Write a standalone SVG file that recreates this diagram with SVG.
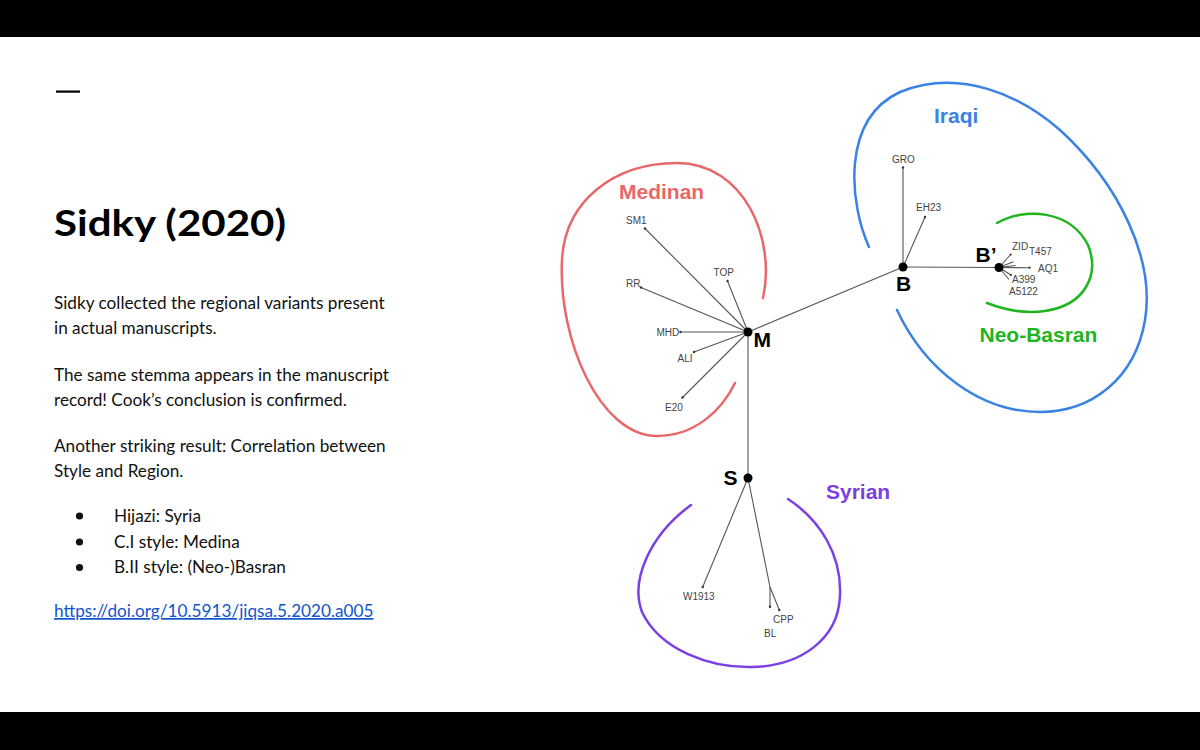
<svg xmlns="http://www.w3.org/2000/svg" width="1200" height="750" viewBox="0 0 1200 750">
<style>
.body{font-family:Lato,"Open Sans","Liberation Sans",sans-serif;font-size:17.2px;fill:#111}
.leaf{font-family:"Liberation Sans",Arial,sans-serif;font-size:10px;fill:#444}
.nlab{font-family:"Liberation Sans",Arial,sans-serif;font-size:21px;font-weight:bold;fill:#000}
.grp{font-family:"Liberation Sans",Arial,sans-serif;font-size:21px;font-weight:bold}
.edge{stroke:#555;stroke-width:1.1;fill:none}
.tip{fill:#333}
.node{fill:#000}
.hull{fill:none;stroke-width:2.5;stroke-linecap:round}
</style>
<rect x="0" y="0" width="1200" height="750" fill="#fff"/>
<rect x="0" y="0" width="1200" height="37" fill="#000"/>
<rect x="0" y="712" width="1200" height="38" fill="#000"/>

<g id="slide-text">
<rect x="56" y="90.5" width="24" height="2.2" fill="#000"/>
<text x="54" y="236" font-family="Lato,'Open Sans',sans-serif" font-size="36" font-weight="700" fill="#000" textLength="232" lengthAdjust="spacingAndGlyphs">Sidky (2020)</text>
<text class="body" x="54" y="309">Sidky collected the regional variants present</text>
<text class="body" x="54" y="334">in actual manuscripts.</text>
<text class="body" x="54" y="381">The same stemma appears in the manuscript</text>
<text class="body" x="54" y="406">record! Cook’s conclusion is confirmed.</text>
<text class="body" x="54" y="452">Another striking result: Correlation between</text>
<text class="body" x="54" y="477">Style and Region.</text>
<circle cx="79.5" cy="516" r="3.6" fill="#111"/>
<circle cx="79.5" cy="542" r="3.6" fill="#111"/>
<circle cx="79.5" cy="567.5" r="3.6" fill="#111"/>
<text class="body" x="114" y="522">Hijazi: Syria</text>
<text class="body" x="114" y="548">C.I style: Medina</text>
<text class="body" x="114" y="573">B.II style: (Neo-)Basran</text>
<text class="body" x="54" y="617" style="fill:#1155cc" text-decoration="underline">https://doi.org/10.5913/jiqsa.5.2020.a005</text>
</g>

<g id="hulls">
<path id="hull-medinan" class="hull" stroke="#e8686a" d="M763,298 C776,240 745,163 677,163 C615,163 565,200 562,260 C558,340 600,436 657,436 C695,436 722,410 735,383"/>
<path id="hull-iraqi" class="hull" stroke="#3a82e4" d="M869,247 C850,205 840,120 900,92 C960,68 1020,95 1060,130 C1120,185 1155,260 1145,320 C1135,380 1090,412 1040,412 C980,412 925,370 897,310"/>
<path id="hull-neobasran" class="hull" stroke="#1fb51f" d="M997,223 C1025,207 1070,210 1088,245 C1100,275 1085,305 1045,311 C1025,314 1005,310 987,303"/>
<path id="hull-syrian" class="hull" stroke="#7b3fe6" d="M691,505 C650,535 630,580 642,612 C660,650 710,668 752,667 C800,666 838,640 840,596 C842,555 820,520 788,499"/>
</g>

<g id="connectors">
<line class="edge" x1="748" y1="332" x2="903" y2="267"/>
<line class="edge" x1="748" y1="332" x2="748" y2="478"/>
<line class="edge" x1="748" y1="332" x2="645" y2="228.5"/>
<line class="edge" x1="748" y1="332" x2="727.5" y2="281"/>
<line class="edge" x1="748" y1="332" x2="641" y2="287.5"/>
<line class="edge" x1="748" y1="332" x2="680.5" y2="332"/>
<line class="edge" x1="748" y1="332" x2="694" y2="352"/>
<line class="edge" x1="748" y1="332" x2="682.5" y2="397.5"/>
<line class="edge" x1="903" y1="267" x2="903" y2="167.5"/>
<line class="edge" x1="903" y1="267" x2="925" y2="217"/>
<line class="edge" x1="903" y1="267" x2="999" y2="267.5"/>
<line class="edge" x1="999" y1="267.5" x2="1010.7" y2="254.5"/>
<line class="edge" x1="999" y1="267.5" x2="1013.3" y2="261.7"/>
<line class="edge" x1="999" y1="267.5" x2="1015.5" y2="265.5"/>
<line class="edge" x1="999" y1="267.5" x2="1029.5" y2="267.7"/>
<line class="edge" x1="999" y1="267.5" x2="1011" y2="275"/>
<line class="edge" x1="999" y1="267.5" x2="1009" y2="279.5"/>
<line class="edge" x1="748" y1="478" x2="702.7" y2="587"/>
<line class="edge" x1="748" y1="478" x2="770" y2="587"/>
<line class="edge" x1="770" y1="587" x2="770" y2="606.7"/>
<line class="edge" x1="770" y1="587" x2="779.3" y2="610"/>
</g>

<g id="tips">
<circle class="tip" cx="645" cy="228.5" r="1.2"/>
<circle class="tip" cx="727.5" cy="281" r="1.2"/>
<circle class="tip" cx="641" cy="287.5" r="1.2"/>
<circle class="tip" cx="680.5" cy="332" r="1.2"/>
<circle class="tip" cx="694" cy="352" r="1.2"/>
<circle class="tip" cx="682.5" cy="397.5" r="1.2"/>
<circle class="tip" cx="903" cy="167.5" r="1.2"/>
<circle class="tip" cx="925" cy="217" r="1.2"/>
<circle class="tip" cx="1010.7" cy="254.5" r="1.1"/>
<circle class="tip" cx="1029.5" cy="267.7" r="1.1"/>
<circle class="tip" cx="1011" cy="275" r="1.1"/>
<circle class="tip" cx="702.7" cy="587" r="1.2"/>
<circle class="tip" cx="770" cy="606.7" r="1.2"/>
<circle class="tip" cx="779.3" cy="610" r="1.2"/>
</g>

<g id="node-M"><circle class="node" cx="748" cy="332" r="4.5"/><text class="nlab" x="753.5" y="347">M</text></g>
<g id="node-B"><circle class="node" cx="903" cy="267" r="4.5"/><text class="nlab" x="896" y="291">B</text></g>
<g id="node-Bp"><circle class="node" cx="999" cy="267.5" r="4.5"/><text class="nlab" x="975.5" y="262">B’</text></g>
<g id="node-S"><circle class="node" cx="748" cy="478" r="4.5"/><text class="nlab" x="723.5" y="484.5">S</text></g>

<g id="leaf-labels">
<text class="leaf" x="626" y="224">SM1</text>
<text class="leaf" x="713.5" y="276">TOP</text>
<text class="leaf" x="626" y="287">RR</text>
<text class="leaf" x="656.5" y="335.5">MHD</text>
<text class="leaf" x="677.5" y="361.5">ALI</text>
<text class="leaf" x="665" y="411">E20</text>
<text class="leaf" x="892" y="163">GRO</text>
<text class="leaf" x="916" y="211">EH23</text>
<text class="leaf" x="1012" y="249.5">ZID</text>
<text class="leaf" x="1029" y="254.5">T457</text>
<text class="leaf" x="1038" y="271.5">AQ1</text>
<text class="leaf" x="1012" y="282.5">A399</text>
<text class="leaf" x="1009" y="294.5">A5122</text>
<text class="leaf" x="683" y="600">W1913</text>
<text class="leaf" x="773" y="623">CPP</text>
<text class="leaf" x="764" y="637">BL</text>
</g>

<g id="group-labels">
<text class="grp" x="619" y="198.5" fill="#e8686a">Medinan</text>
<text class="grp" x="934" y="123" fill="#3a82e4">Iraqi</text>
<text class="grp" x="979.5" y="342" fill="#1fb51f">Neo-Basran</text>
<text class="grp" x="826" y="499" fill="#7b3fe6">Syrian</text>
</g>
</svg>
